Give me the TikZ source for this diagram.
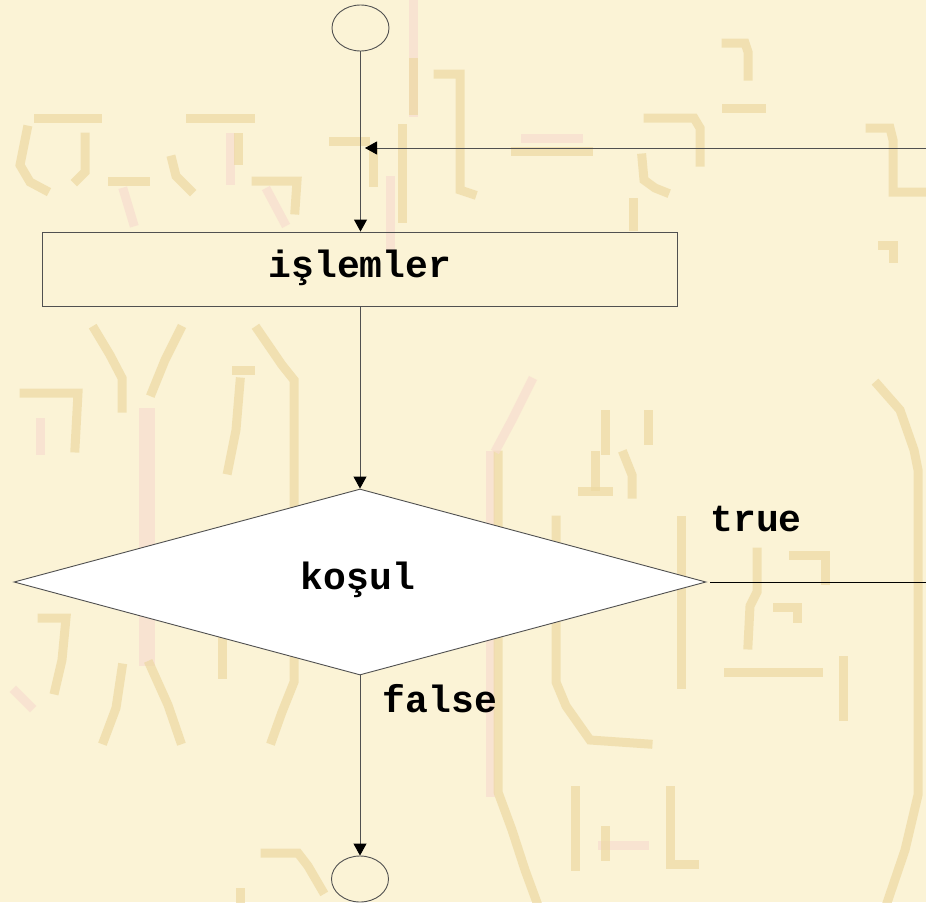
\documentclass[tikz,border=0pt]{standalone}
\usepackage{fontspec}
\setmainfont{Liberation Mono}
\usetikzlibrary{arrows.meta,shapes.geometric}
\definecolor{bgcream}{HTML}{FBF3D6}
\definecolor{linegray}{HTML}{505050}
\definecolor{wmtan}{HTML}{EDD9A2}
\definecolor{wmpink}{HTML}{F8DDCF}
\begin{document}
\begin{tikzpicture}[x=1pt,y=-1pt,
  conn/.style={draw=linegray, line width=0.9pt},
  arr/.style={conn, -{Triangle[width=13pt,length=12pt,color=black]}},
  lbl/.style={font=\fontsize{38}{38}\selectfont\bfseries, inner sep=0pt},
  term/.style={ellipse, draw=linegray, line width=0.9pt, minimum width=57pt,
    minimum height=46pt, inner sep=0pt},
  procbox/.style={rectangle, draw=linegray, line width=0.9pt,
    minimum width=635pt, minimum height=74pt, inner sep=0pt},
  decision/.style={diamond, draw=linegray, line width=0.9pt, fill=white,
    minimum width=692pt, minimum height=186pt, inner sep=0pt, aspect=3.72},
  wm/.style={draw=wmtan, line width=9pt, line cap=rect},
  wmp/.style={draw=wmpink, line width=9pt, line cap=rect}]
  % page
  \fill[bgcream] (0,0) rectangle (926,902);
  \useasboundingbox (0,0) rectangle (926,902);

  % faint pixel lettering in the page background
  \begin{scope}[opacity=0.7]
    % upper left glyphs
    \draw[wm] (38,118) -- (97,118);
    \draw[wm] (27,130) -- (20,165) -- (30,182) -- (45,190);
    \draw[wm] (85,137) -- (85,172) -- (77,180);
    \draw[wm] (112,181) -- (145,181);
    \draw[wmp] (124,192) -- (133,222);
    \draw[wm] (190,118) -- (250,118);
    \draw[wm] (172,160) -- (176,176) -- (190,190);
    \draw[wmp] (230,137) -- (230,180);
    \draw[wm] (238,137) -- (238,160);
    \draw[wm] (256,181) -- (297,181) -- (295,210);
    \draw[wmp] (268,192) -- (284,222);
    % strokes near the loop arrow
    \draw[wmp] (413,4) -- (413,112);
    \draw[wm] (413,62) -- (413,110);
    \draw[wm] (402,128) -- (402,218);
    \draw[wmp] (390,180) -- (390,248);
    \draw[wm] (333,141) -- (365,141);
    \draw[wm] (373,152) -- (373,182);
    \draw[wm] (438,74) -- (460,74) -- (460,190) -- (472,194);
    \draw[wm] (515,151) -- (588,151);
    \draw[wmp] (525,138) -- (578,138);
    % upper right glyphs
    \draw[wm] (648,118) -- (694,118) -- (700,128) -- (700,162);
    \draw[wm] (642,158) -- (644,180) -- (655,188) -- (665,192);
    \draw[wm] (633,202) -- (633,226);
    \draw[wm] (726,43) -- (745,43) -- (748,52) -- (748,76);
    \draw[wm] (726,108) -- (761,108);
    \draw[wm] (870,128) -- (890,128) -- (893,140) -- (893,192) -- (922,192);
    \draw[wm] (882,245) -- (893,245) -- (893,258);
    % left middle glyphs
    \draw[wm] (95,330) -- (110,355) -- (122,378) -- (122,408);
    \draw[wm] (180,330) -- (165,360) -- (152,392);
    \draw[wmp, line width=16pt, line cap=butt] (147,408) -- (147,666);
    \draw[wm] (150,665) -- (168,705) -- (180,740);
    \draw[wm] (258,330) -- (282,365) -- (294,380) -- (294,505);
    \draw[wm] (294,655) -- (294,682) -- (282,712) -- (272,740);
    \draw[wm] (236,370) -- (250,370);
    \draw[wm] (240,382) -- (236,430) -- (228,470);
    \draw[wm] (24,393) -- (78,393) -- (75,448);
    \draw[wmp] (40,422) -- (40,450);
    \draw[wm] (42,618) -- (66,618) -- (62,660) -- (55,690);
    \draw[wmp] (16,692) -- (30,706);
    \draw[wm] (122,668) -- (116,708) -- (104,740);
    \draw[wm] (222,640) -- (222,674);
    \draw[wm] (265,853) -- (298,853) -- (308,866) -- (322,890);
    \draw[wm] (240,892) -- (240,900);
    % right middle glyphs
    \draw[wmp] (490,455) -- (490,792);
    \draw[wm] (498,455) -- (498,792) -- (512,830) -- (525,870) -- (536,900);
    \draw[wmp] (531,382) -- (512,420) -- (497,448);
    \draw[wm] (605,414) -- (605,450);
    \draw[wm] (648,414) -- (648,440);
    \draw[wm] (595,455) -- (595,486);
    \draw[wm] (582,491) -- (608,491);
    \draw[wm] (624,455) -- (632,475) -- (632,494);
    \draw[wm] (556,520) -- (556,682) -- (566,706) -- (590,740) -- (648,744);
    \draw[wm] (681,520) -- (681,684);
    \draw[wm] (757,552) -- (757,592) -- (750,606) -- (748,645);
    \draw[wm] (793,555) -- (825,555) -- (825,580);
    \draw[wm] (777,607) -- (797,607) -- (797,618);
    \draw[wm] (728,672) -- (818,672);
    \draw[wm] (843,660) -- (843,716);
    \draw[wm] (878,385) -- (900,410) -- (914,450) -- (918,470) -- (918,795)
               -- (905,850) -- (888,900);
    \draw[wm] (575,790) -- (575,866);
    \draw[wmp] (602,845) -- (644,845);
    \draw[wm] (605,830) -- (605,856);
    \draw[wm] (670,790) -- (670,864) -- (694,864);
  \end{scope}

  % flowchart shapes
  \node[term] (start) at (360.5,28) {};
  \node[procbox] (proc) at (359.5,269) {};
  \node[lbl] (proctext) at (360,268) {işlemler};
  \node[decision] (cond) at (360,582) {};
  \node[lbl] (condtext) at (358,580) {koşul};
  \node[term] (stop) at (360,879) {};

  % branch labels
  \node[lbl] (truelbl) at (756,519) {true};
  \node[lbl] (falselbl) at (440,699) {false};

  % loop-back entry and exit
  \coordinate (loopin) at (926,148);
  \coordinate (join) at (365,148);
  \coordinate (trueout) at (926,582);

  % connectors
  \draw[arr] (start.south) -- (proc.north -| start.south);
  \draw[arr] (loopin) -- (join);
  \draw[arr] (proc.south -| cond.north) -- (cond.north);
  \draw[conn, draw=black] (cond.east) ++(4,0) -- (trueout);
  \draw[arr] (cond.south) -- (stop.north);
\end{tikzpicture}
\end{document}
